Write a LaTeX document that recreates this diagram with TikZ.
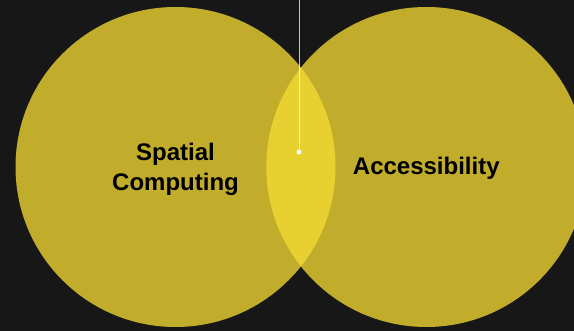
\documentclass[tikz,border=0pt]{standalone}
\usepackage{fontspec}
\setmainfont{Liberation Sans}
\usepackage{xcolor}
\usepackage{tikz}
\usetikzlibrary{positioning}

\definecolor{bgdark}{RGB}{23,23,23}
\definecolor{vennyellow}{RGB}{245,219,50}

\tikzset{
  setcircle/.style={circle,fill=vennyellow,fill opacity=0.77,
    minimum size=320pt,inner sep=0pt},
  setlabel/.style={font=\bfseries\fontsize{24}{30}\selectfont,align=center,text=black}
}

\begin{document}
\begin{tikzpicture}[x=1pt,y=1pt]
  \fill[bgdark] (0,0) rectangle (574,331);
  \useasboundingbox (0,0) rectangle (574,331);
  \clip (0,0) rectangle (574,331);

  \node[setcircle] (sc) at (175.5,164) {};
  \node[setcircle] (acc) at (426.3,164) {};

  \node[setlabel] (sclabel) at ([yshift=-2pt]sc.center) {Spatial\\Computing};
  \node[setlabel] (acclabel) at ([yshift=-1pt]acc.center) {Accessibility};

  \coordinate (top) at (299,331);
  \node[circle,fill=white,inner sep=0pt,minimum size=5pt] (pin) at (299,179) {};
  \draw[white,opacity=0.75,line width=1pt] (top) -- (pin);
\end{tikzpicture}
\end{document}
